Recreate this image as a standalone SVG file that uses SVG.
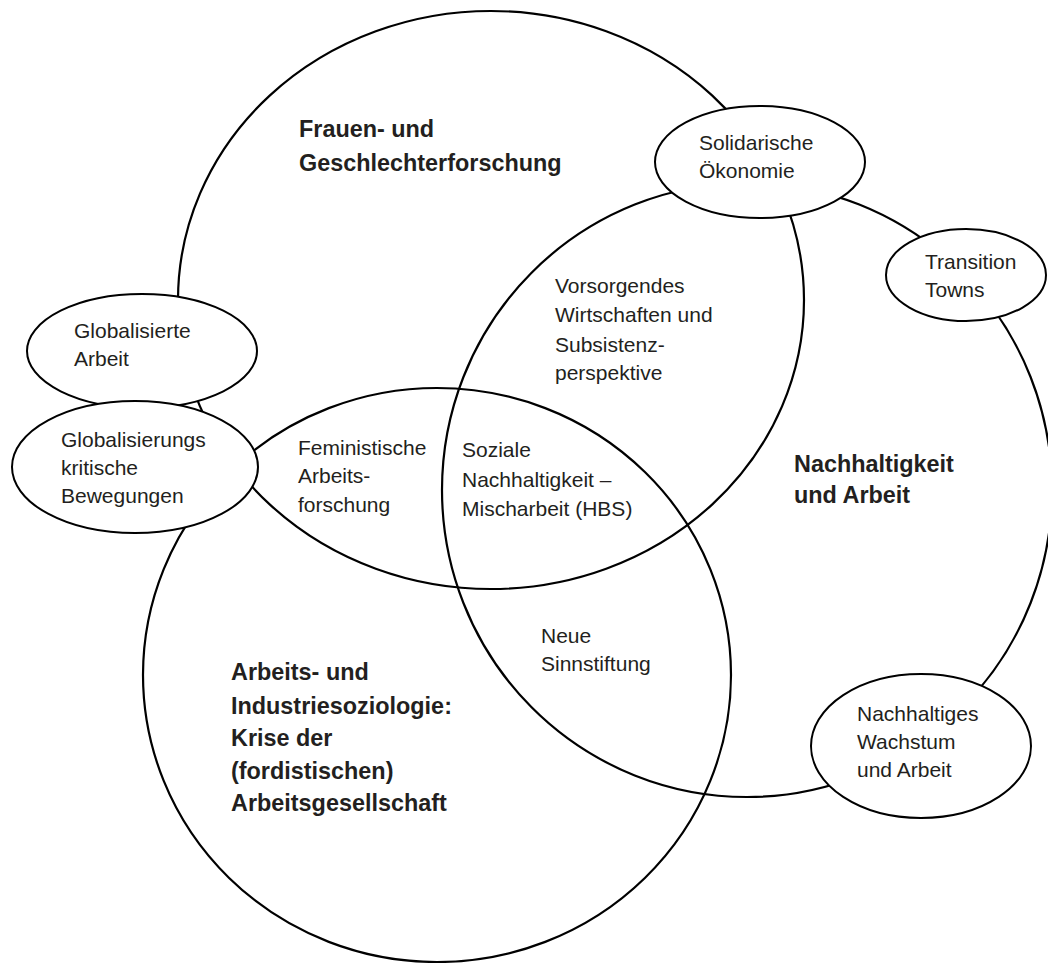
<svg xmlns="http://www.w3.org/2000/svg" width="1048" height="963" viewBox="0 0 1048 963">
<style>
.big{fill:none;stroke:#000;stroke-width:2.2}
.small{fill:#fff;stroke:#000;stroke-width:2}
.t{font-family:"Liberation Sans",Arial,sans-serif;font-size:21px;fill:#231f20}
.b{font-family:"Liberation Sans",Arial,sans-serif;font-size:23.4px;font-weight:bold;fill:#231f20}
</style>
<rect width="1048" height="963" fill="#fff"/>
<g id="circles">
<g id="frauen"><ellipse class="big" cx="491" cy="300" rx="313" ry="289"/></g>
<g id="nachhaltigkeit"><ellipse class="big" cx="747" cy="490" rx="305" ry="307"/></g>
<g id="arbeits"><ellipse class="big" cx="437" cy="675" rx="294" ry="287"/></g>
</g>
<g id="solidarische"><ellipse class="small" cx="760" cy="162" rx="105" ry="56"/>
<text class="t" x="699" y="150">Solidarische</text><text class="t" x="699" y="178">Ökonomie</text></g>
<g id="transition"><ellipse class="small" cx="966" cy="275" rx="80" ry="46"/>
<text class="t" x="925" y="269">Transition</text><text class="t" x="925" y="297">Towns</text></g>
<g id="globalisierte"><ellipse class="small" cx="142" cy="351" rx="115" ry="57"/>
<text class="t" x="74" y="338">Globalisierte</text><text class="t" x="74" y="366">Arbeit</text></g>
<g id="globalisierungs"><ellipse class="small" cx="135" cy="467" rx="123" ry="66"/>
<text class="t" x="61" y="447">Globalisierungs</text><text class="t" x="61" y="475">kritische</text><text class="t" x="61" y="503">Bewegungen</text></g>
<g id="wachstum"><ellipse class="small" cx="921" cy="746" rx="110" ry="72"/>
<text class="t" x="857" y="721">Nachhaltiges</text><text class="t" x="857" y="749">Wachstum</text><text class="t" x="857" y="777">und Arbeit</text></g>
<g id="labels">
<text class="b" x="299" y="137">Frauen- und</text><text class="b" x="299" y="171">Geschlechterforschung</text>
<text class="b" x="794" y="472">Nachhaltigkeit</text><text class="b" x="794" y="503">und Arbeit</text>
<text class="b" x="231" y="680">Arbeits- und</text><text class="b" x="231" y="714">Industriesoziologie:</text><text class="b" x="231" y="746">Krise der</text><text class="b" x="231" y="779">(fordistischen)</text><text class="b" x="231" y="811">Arbeitsgesellschaft</text>
<text class="t" x="555" y="293">Vorsorgendes</text><text class="t" x="555" y="322">Wirtschaften und</text><text class="t" x="555" y="352">Subsistenz-</text><text class="t" x="555" y="380">perspektive</text>
<text class="t" x="298" y="455">Feministische</text><text class="t" x="298" y="483">Arbeits-</text><text class="t" x="298" y="512">forschung</text>
<text class="t" x="462" y="457">Soziale</text><text class="t" x="462" y="487">Nachhaltigkeit –</text><text class="t" x="462" y="516">Mischarbeit (HBS)</text>
<text class="t" x="541" y="643">Neue</text><text class="t" x="541" y="671">Sinnstiftung</text>
</g>
</svg>
